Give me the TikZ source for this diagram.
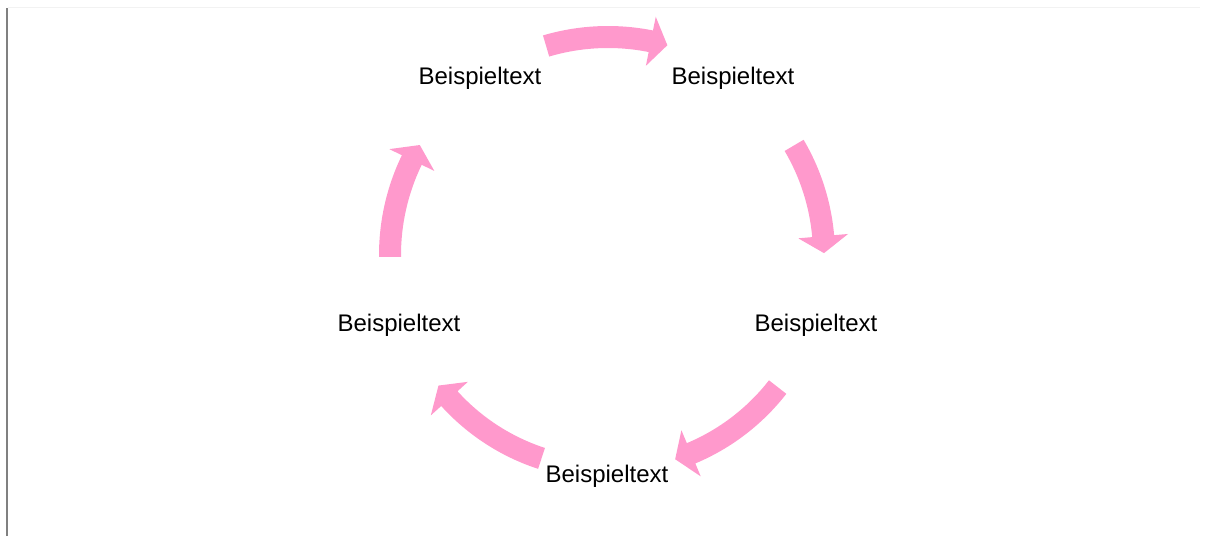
\documentclass[tikz,border=0pt]{standalone}
\usepackage{fontspec}
\setmainfont{Liberation Sans}
\usetikzlibrary{calc}
\definecolor{arrowpink}{RGB}{255,153,204}
\definecolor{frameline}{RGB}{128,128,128}
\definecolor{topline}{RGB}{242,242,242}
\newcommand\cycarrow[3]{%
  \pgfmathsetmacro\cbase{#2+17/#3*180/pi}%
  \pgfmathsetlengthmacro\ro{#3pt+11pt}%
  \pgfmathsetlengthmacro\ri{#3pt-11pt}%
  \pgfmathsetlengthmacro\ho{#3pt+25pt}%
  \pgfmathsetlengthmacro\hi{#3pt-25pt}%
  \fill[arrowpink] ($(C)+(#1:\ro)$) arc[start angle=#1, end angle=\cbase, radius=\ro]
    -- ($(C)+(\cbase:\ho)$) -- ($(C)+(#2:#3pt)$) -- ($(C)+(\cbase:\hi)$)
    -- ($(C)+(\cbase:\ri)$) arc[start angle=\cbase, end angle=#1, radius=\ri] -- cycle;}
\tikzset{lbl/.style={anchor=base, inner sep=0pt, font=\fontsize{24}{29}\selectfont}}
\begin{document}
\begin{tikzpicture}[x=1pt,y=1pt]
\useasboundingbox (0,0) rectangle (1206,536);
\draw[topline, line width=1pt] (8,528) -- (1200,528);
\draw[frameline, line width=1.5pt] (7,0) -- (7,528);
\coordinate (C) at (608,281);
\cycarrow{106.5}{74.2}{218}
\cycarrow{30.5}{0.5}{216}
\cycarrow{-37.9}{-71.8}{215}
\cycarrow{-108.1}{-142.4}{214}
\cycarrow{180.5}{149.7}{218}
\node[lbl] (n1) at (480,451) {Beispieltext};
\node[lbl] (n2) at (733,451) {Beispieltext};
\node[lbl] (n3) at (816,205) {Beispieltext};
\node[lbl] (n4) at (607,53.7) {Beispieltext};
\node[lbl] (n5) at (399,205) {Beispieltext};
\end{tikzpicture}
\end{document}
